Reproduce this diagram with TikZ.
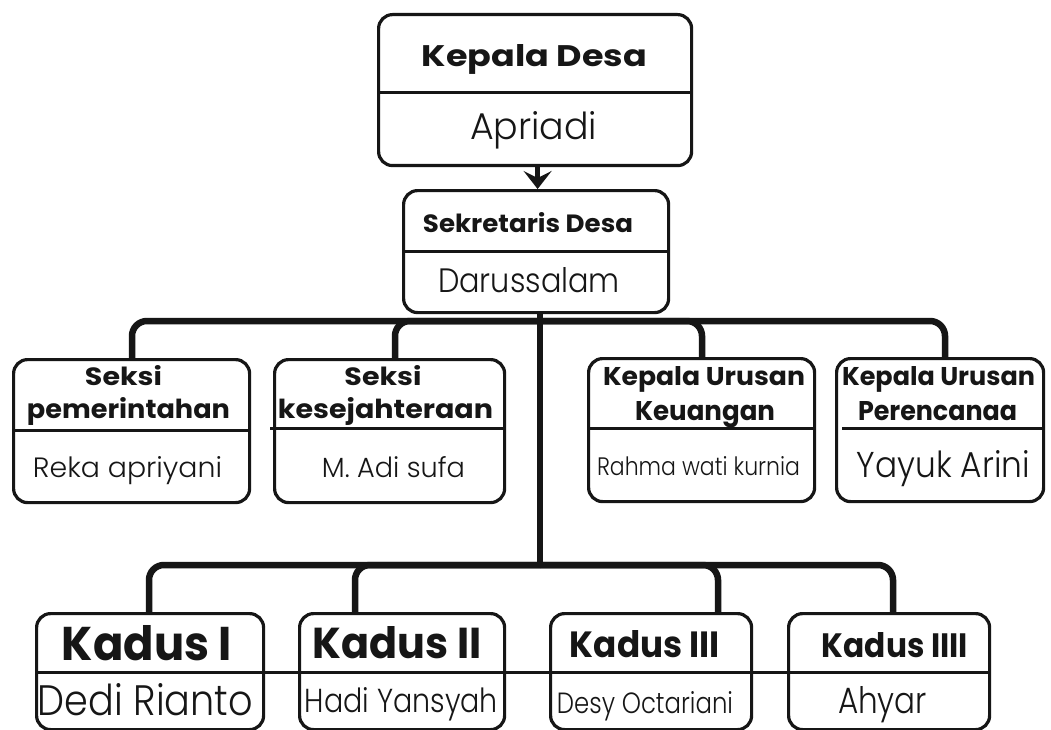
\documentclass[tikz,border=0pt]{standalone}
\usepackage{fontspec}
\setmainfont{Poppins}
\newfontfamily\lightf{Poppins Light}
\usepackage{graphicx}
\usetikzlibrary{arrows.meta}
\definecolor{ink}{RGB}{22,22,22}
\newcommand\hd[3]{\resizebox{#1pt}{#2pt}{\bfseries #3}}
\newcommand\nm[3]{\resizebox{#1pt}{#2pt}{\lightf #3}}
\tikzset{
  box/.style={draw=ink, line width=3.2pt, rounded corners=14pt, inner sep=0pt, anchor=north west},
  divider/.style={draw=ink, line width=3pt},
  bus/.style={draw=ink, line width=6.5pt, rounded corners=15pt},
  txt/.style={anchor=base, inner sep=0pt, text=ink},
}
\begin{document}
\begin{tikzpicture}[x=1pt, y=-1pt]
\useasboundingbox (0,0) rectangle (1051,730);
\fill[white] (0,0) rectangle (1051,730);

% ---------- boxes ----------
\node[box, minimum width=313pt, minimum height=151pt] (kd) at (377,13) {};
\node[box, minimum width=265pt, minimum height=122pt] (sk) at (402,189) {};

\node[box, minimum width=236pt, minimum height=143pt] (m1) at (12,358) {};
\node[box, minimum width=230pt, minimum height=143pt] (m2) at (273,358) {};
\node[box, minimum width=226pt, minimum height=143pt] (m3) at (587,357) {};
\node[box, minimum width=207pt, minimum height=143pt] (m4) at (835,357) {};

\node[box, minimum width=227pt, minimum height=116pt] (b1) at (35,612) {};
\node[box, minimum width=205pt, minimum height=116pt] (b2) at (298,612) {};
\node[box, minimum width=201pt, minimum height=116pt] (b3) at (549,612) {};
\node[box, minimum width=201pt, minimum height=116pt] (b4) at (787,612) {};

% ---------- dividers ----------
\draw[divider] (kd.west |- 0,93) -- (kd.east |- 0,93);
\draw[divider] (sk.west |- 0,251) -- (sk.east |- 0,251);
\draw[divider] (m1.west |- 0,430) -- (m1.east |- 0,430);
\draw[divider] (270,428) -- (m2.east |- 0,428);
\draw[divider] (m3.west |- 0,428) -- (m3.east |- 0,428);
\draw[divider] (842,428) -- (m4.east |- 0,428);
\draw[divider] (b1.west |- 0,672) -- (b4.east |- 0,672);

% ---------- texts ----------
\node[txt] (t-kd) at (534.5,67) {\hd{225}{22}{Kepala Desa}};
\node[txt] (n-kd) at (533.5,140) {\nm{127}{28}{Apriadi}};
\node[txt] (t-sk) at (528,232) {\hd{210}{20}{Sekretaris Desa}};
\node[txt] (n-sk) at (529,292) {\nm{182}{25}{Darussalam}};

\node[txt] (t-m1a) at (123.5,385) {\hd{77}{20}{Seksi}};
\node[txt] (t-m1b) at (128.5,418) {\hd{203}{21}{pemerintahan}};
\node[txt] (n-m1) at (127.5,477) {\nm{189}{21}{Reka apriyani}};

\node[txt] (t-m2a) at (383,385) {\hd{77}{20}{Seksi}};
\node[txt] (t-m2b) at (385.5,418) {\hd{215}{21}{kesejahteraan}};
\node[txt] (n-m2) at (393.5,477) {\nm{143}{21}{M. Adi sufa}};

\node[txt] (t-m3a) at (704,385) {\hd{202}{19}{Kepala Urusan}};
\node[txt] (t-m3b) at (705,420) {\hd{140}{19}{Keuangan}};
\node[txt] (n-m3) at (698.5,475) {\nm{203}{19}{Rahma wati kurnia}};

\node[txt] (t-m4a) at (938.5,385) {\hd{193}{19}{Kepala Urusan}};
\node[txt] (t-m4b) at (937.5,420) {\hd{159}{19}{Perencanaa}};
\node[txt] (n-m4) at (943.5,477) {\nm{173}{27}{Yayuk Arini}};

\node[txt] (t-b1) at (147,660) {\hd{170}{35}{Kadus I}};
\node[txt] (n-b1) at (145.5,715) {\nm{215}{32}{Dedi Rianto}};
\node[txt] (t-b2) at (397.5,658) {\hd{169}{32}{Kadus II}};
\node[txt] (n-b2) at (401.5,712) {\nm{193}{25}{Hadi Yansyah}};
\node[txt] (t-b3) at (645,657) {\hd{150}{27}{Kadus III}};
\node[txt] (n-b3) at (645,713) {\nm{176}{22}{Desy Octariani}};
\node[txt] (t-b4) at (895,657) {\hd{146}{25}{Kadus IIII}};
\node[txt] (n-b4) at (882.5,713) {\nm{89}{27}{Ahyar}};

% ---------- connectors ----------
\draw[draw=ink, line width=5.5pt, -{Stealth[length=18pt, width=28pt, inset=7pt]}]
  ([xshift=2.5pt]kd.south) -- ([xshift=2.5pt]kd.south |- sk.north);

\coordinate (j1) at (540,321);
\coordinate (j2) at (540,565);
\draw[bus] (j1 |- sk.south) -- (j2);

\draw[bus] (j1) -| ([xshift=120pt]m1.north west);
\draw[bus] (j1) -| ([xshift=122pt]m2.north west);
\draw[bus] (j1) -| ([xshift=115pt]m3.north west);
\draw[bus] (j1) -| ([xshift=110pt]m4.north west);

\draw[bus] (j2) -| ([xshift=114pt]b1.north west);
\draw[bus] (j2) -| ([xshift=57pt]b2.north west);
\draw[bus] (j2) -| ([xshift=169pt]b3.north west);
\draw[bus] (j2) -| ([xshift=106pt]b4.north west);
\end{tikzpicture}
\end{document}
